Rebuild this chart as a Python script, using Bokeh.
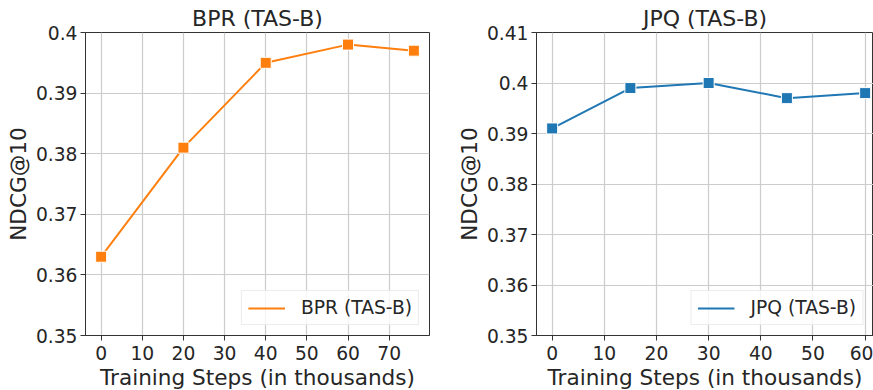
from bokeh.plotting import figure
from bokeh.layouts import row
from bokeh.models import Range1d, FixedTicker, Legend, LegendItem, Title
from bokeh.embed import file_html
from bokeh.resources import INLINE

# ---- data ----
bpr_steps = [0, 20, 40, 60, 76]
bpr_ndcg = [0.363, 0.381, 0.395, 0.398, 0.397]
jpq_steps = [0, 15, 30, 45, 60]
jpq_ndcg = [0.391, 0.399, 0.400, 0.397, 0.398]

left_x_ticks = [0, 10, 20, 30, 40, 50, 60, 70]
right_x_ticks = [0, 10, 20, 30, 40, 50, 60]
left_y_ticks = [0.35, 0.36, 0.37, 0.38, 0.39, 0.40]
left_y_labels = ["0.35", "0.36", "0.37", "0.38", "0.39", "0.4"]
right_y_ticks = [0.35, 0.36, 0.37, 0.38, 0.39, 0.40, 0.41]
right_y_labels = ["0.35", "0.36", "0.37", "0.38", "0.39", "0.4", "0.41"]

titles = ["BPR (TAS-B)", "JPQ (TAS-B)"]
x_label = "Training Steps (in thousands)"
y_label = "NDCG@10"

FONT = "DejaVu Sans"
TXT = "#262626"


def make_fig(title, xs, ys, color, xr, yr, xt, yt, ylabels, width, mbl, mbr):
    p = figure(width=width, height=390, output_backend="svg", toolbar_location=None,
               x_range=Range1d(*xr), y_range=Range1d(*yr),
               min_border_left=mbl, min_border_right=mbr,
               min_border_top=32, min_border_bottom=55)
    p.title.text = title
    p.title.text_font = FONT
    p.title.text_font_size = "22px"
    p.title.text_font_style = "normal"
    p.title.text_color = TXT
    p.title.align = "center"
    p.title.standoff = 3
    p.title.offset = 0

    p.xaxis.ticker = FixedTicker(ticks=xt)
    p.yaxis.ticker = FixedTicker(ticks=yt)
    p.yaxis.major_label_overrides = {t: l for t, l in zip(yt, ylabels)}
    for ax in (p.xaxis[0], p.yaxis[0]):
        ax.major_label_text_font = FONT
        ax.major_label_text_font_size = "18.7px"
        ax.major_label_text_color = TXT
        ax.axis_label_text_font = FONT
        ax.axis_label_text_font_size = "21.6px"
        ax.axis_label_text_font_style = "normal"
        ax.axis_label_text_color = TXT
        ax.minor_tick_line_color = None
        ax.major_tick_out = 5
        ax.major_tick_in = 0
        ax.major_tick_line_color = "#333333"
        ax.axis_line_color = "#333333"
    p.xaxis.major_label_standoff = 5
    p.yaxis.major_label_standoff = 3
    p.yaxis.axis_label_standoff = 2
    p.yaxis.axis_label = y_label

    # x-axis title placed below the tick labels
    xt_title = Title(text=x_label, align="center", text_font=FONT,
                     text_font_size="21.6px", text_font_style="normal",
                     text_color=TXT, standoff=0, offset=0)
    p.add_layout(xt_title, "below")

    p.outline_line_color = "#333333"
    p.outline_line_width = 1
    p.grid.grid_line_color = "#cccccc"
    p.grid.grid_line_width = 1.2

    ln = p.line(xs, ys, line_color=color, line_width=2)
    p.scatter(xs, ys, marker="square", size=11, fill_color=color,
              line_color="white", line_width=1)

    leg = Legend(items=[LegendItem(label=title, renderers=[ln])],
                 location="bottom_right")
    leg.label_text_font = FONT
    leg.label_text_font_size = "18.7px"
    leg.label_text_color = TXT
    leg.glyph_width = 37
    leg.glyph_height = 20
    leg.label_standoff = 16
    leg.label_height = 20
    leg.padding = 6
    leg.margin = 10
    leg.border_line_color = "#d9d9d9"
    leg.border_line_width = 1
    leg.background_fill_color = "white"
    leg.background_fill_alpha = 0.8
    p.add_layout(leg)
    return p


p1 = make_fig(titles[0], bpr_steps, bpr_ndcg, "#ff7f0e", (-3.8, 79.8), (0.35, 0.40),
              left_x_ticks, left_y_ticks, left_y_labels, 450, 85, 21)
p2 = make_fig(titles[1], jpq_steps, jpq_ndcg, "#1f77b4", (-3.0, 61.6), (0.35, 0.41),
              right_x_ticks, right_y_ticks, right_y_labels, 423, 86, 0)

layout = row(p1, p2)
open("out.html", "w").write(file_html(layout, INLINE))
